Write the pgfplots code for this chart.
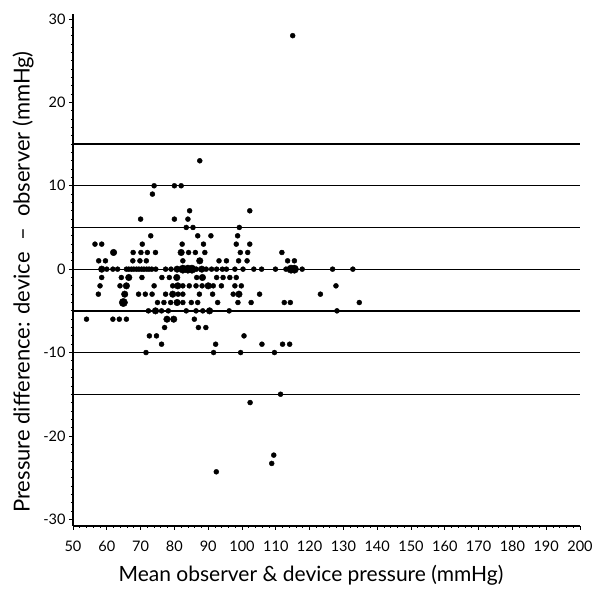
\documentclass[border=0pt]{standalone}
\usepackage{pgfplots}
\pgfplotsset{compat=1.18}
\usepackage{fontspec}
\setmainfont{Lato}

\begin{document}
\begin{tikzpicture}
\begin{axis}[
    at={(0,0)}, anchor=south west,
    scale only axis,
    width=507pt, height=512pt,
    xmin=50, xmax=200,
    ymin=-30.8, ymax=30.6,
    axis x line*=bottom,
    axis y line*=left,
    axis line style={-, line width=1.3pt},
    xtick={50,60,...,200},
    xticklabels={50,60,70,80,90,100,110,120,130,140,150,160,170,180,190,200},
    ytick={-30,-20,...,30},
    yticklabels={-30,-20,-10,0,10,20,30},
    minor x tick num=4,
    minor y tick num=9,
    tick align=outside,
    major tick length=4pt,
    minor tick length=2pt,
    tick style={black, line width=0.8pt},
    ticklabel style={font=\fontsize{14.5}{16}\selectfont},
    xticklabel style={yshift=-7pt},
    clip=false,
]
% reference lines
\addplot[black, line width=1.3pt] coordinates {(50,15)(200,15)};
\addplot[black, line width=1.3pt] coordinates {(50,10)(200,10)};
\addplot[black, line width=1.3pt] coordinates {(50,5)(200,5)};
\addplot[black, line width=1.3pt] coordinates {(50,0)(200,0)};
\addplot[black, line width=1.3pt] coordinates {(50,-5)(200,-5)};
\addplot[black, line width=1.3pt] coordinates {(50,-10)(200,-10)};
\addplot[black, line width=1.3pt] coordinates {(50,-15)(200,-15)};

% single observations
\addplot[only marks, mark=*, mark size=2.5pt, black] coordinates {
(115,28) (87.5,13)
(74,10) (80,10) (82,10) (73.5,9)
(84.5,7) (102.3,7)
(70,6) (80,6) (84,6)
(83.5,5) (85.5,5) (99.2,5)
(73,4) (86.9,4) (90.8,4) (98.7,4)
(56.5,3) (58.5,3) (70.5,3) (82.3,3) (88.6,3) (98.3,3) (102.3,3)
(67.8,2) (70.1,2) (72,2) (74.4,2) (84.2,2) (86.2,2) (89,2) (99.5,2) (101.7,2) (111.8,2)
(57.6,1) (59.6,1) (67.7,1) (69.8,1) (71.7,1) (82.5,1) (93.2,1) (95.4,1) (99,1) (101.5,1) (113.5,1) (115.5,1)
(60,0) (61.8,0) (63.2,0) (65.8,0) (66.5,0) (67.3,0) (68,0) (68.8,0) (69.5,0) (70.3,0) (71,0) (71.8,0) (72.5,0) (73.3,0) (74.5,0)
(77.4,0) (79,0) (86.5,0) (89.4,0) (91,0) (92.5,0) (94.2,0) (95.4,0) (97.9,0) (100.3,0) (103.5,0) (105.8,0) (109.9,0) (113,0) (117.8,0) (126.8,0) (132.8,0)
(58.5,-1) (64.3,-1) (70.4,-1) (76.3,-1) (78.5,-1) (86.6,-1) (92.5,-1) (94.4,-1) (96.4,-1) (98.3,-1)
(58,-2) (63.9,-2) (74,-2) (79.5,-2) (82.5,-2) (84.4,-2) (86.4,-2) (88.2,-2) (91.5,-2) (93.9,-2) (97.9,-2) (99.8,-2) (127.8,-2)
(57.5,-3) (69.4,-3) (71.4,-3) (73.4,-3) (77.4,-3) (81.1,-3) (82.5,-3) (87.4,-3) (91.3,-3) (97.4,-3) (105.2,-3) (123.2,-3)
(75,-4) (76.9,-4) (78.9,-4) (82.5,-4) (85,-4) (86.9,-4) (92.8,-4) (98.8,-4) (102.7,-4) (112.5,-4) (114.3,-4) (134.7,-4)
(72.3,-5) (76.2,-5) (78.2,-5) (83.5,-5) (86.4,-5) (88.4,-5) (96.2,-5) (128.1,-5)
(54,-6) (61.8,-6) (63.7,-6) (65.8,-6) (85.9,-6)
(77.1,-7) (87.1,-7) (89.3,-7)
(72.6,-8) (74.7,-8) (100.6,-8)
(76.2,-9) (92.2,-9) (105.9,-9) (112,-9) (114.1,-9)
(71.6,-10) (91.6,-10) (99.6,-10) (109.6,-10)
(111.4,-15) (102.4,-16)
(109.4,-22.3) (108.8,-23.3) (92.4,-24.3)
};

% two coinciding observations
\addplot[only marks, mark=*, mark size=3.3pt, black] coordinates {
(62,2) (82,2) (87.5,1)
(58.5,0) (80.8,0) (88.1,0)
(66.5,-1) (80.7,-1) (88.3,-1)
(65.8,-2) (81,-2) (90,-2)
(65.3,-3) (79.5,-3) (99.1,-3)
(80.8,-4)
(74.4,-5) (90.4,-5)
(77.8,-6) (79.8,-6)
};

% three or more coinciding observations
\addplot[only marks, mark=*, mark size=4.2pt, black] coordinates {
(82.5,0) (84,0) (85.2,0) (114.5,0) (115.5,0)
(64.9,-4)
};
\end{axis}

\node[rotate=90, font=\fontsize{22}{26}\selectfont] at (-50pt,244pt)
    {Pressure difference: device\ \ --\ \ observer (mmHg)};
\node[font=\fontsize{21}{25}\selectfont] at (238pt,-49pt)
    {Mean observer \& device pressure (mmHg)};

\pgfresetboundingbox
\path[use as bounding box] (-73pt,-67pt) rectangle (524pt,526pt);
\end{tikzpicture}
\end{document}
